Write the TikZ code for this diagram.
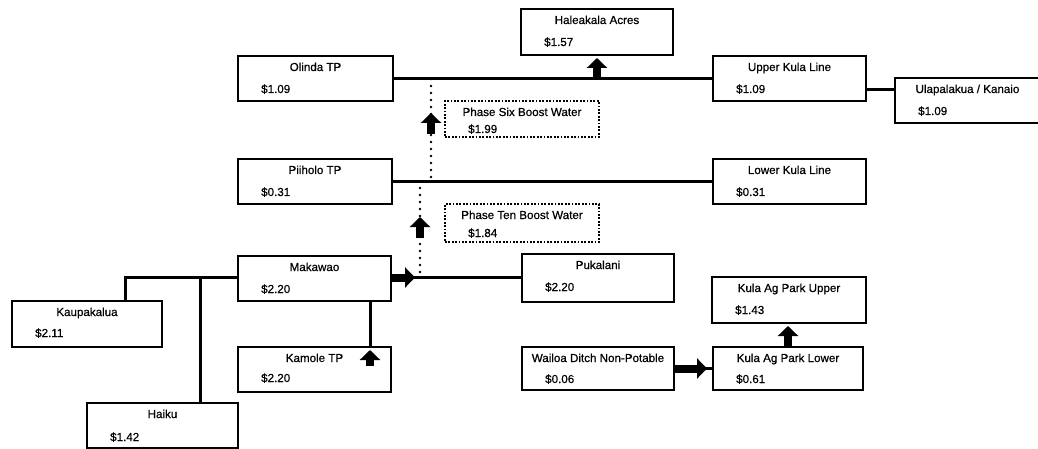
\documentclass[tikz,border=0pt]{standalone}
\usepackage{fontspec}
\setmainfont{Liberation Sans}
\newfontfamily\diagfont{Liberation Sans}[FakeBold=0.6]
\usetikzlibrary{arrows.meta,calc}
\tikzset{
 box/.style={draw, line width=2pt, rectangle, inner sep=0pt},
 dbox/.style={draw, line width=1.8pt, dash pattern=on 1.8pt off 1.6pt, rectangle, inner sep=0pt},
 ttl/.style={inner sep=0pt, anchor=base, font=\diagfont\fontsize{11.6}{13}\selectfont},
 prc/.style={inner sep=0pt, anchor=base west, font=\diagfont\fontsize{11.6}{13}\selectfont},
 conn/.style={line width=3pt},
 dotconn/.style={line width=2.6pt, line cap=round, dash pattern=on 0pt off 7pt},
 fat/.style={line width=8pt, -{Triangle[width=20pt,length=10pt]}},
}
% #1 name, #2 style, #3 x1, #4 y1, #5 x2, #6 y2, #7 title, #8 price, #9 price baseline offset
\newcommand\pbox[9]{%
 \node[#2, minimum width={(#5-#3)*1pt}, minimum height={(#6-#4)*1pt}] (#1) at ({(#3+#5)/2},{(#4+#6)/2}) {};
 \node[ttl] (#1-t) at ({(#3+#5)/2},{#4+15}) {#7};
 \node[prc] (#1-p) at ({#3+23},{#4+#9}) {#8};
}
\begin{document}
\begin{tikzpicture}[x=1pt,y=-1pt]
\useasboundingbox (0,0) rectangle (1038,449);
\pbox{haleakala}{box}{521}{9}{673}{55}{Haleakala Acres}{\$1.57}{37}
\pbox{olinda}{box}{238}{56}{393}{101}{Olinda TP}{\$1.09}{37}
\pbox{upperkula}{box}{713}{56}{866}{101}{Upper Kula Line}{\$1.09}{37}
\pbox{ulap}{box}{895}{78}{1040}{123}{Ulapalakua / Kanaio}{\$1.09}{37}
\pbox{piiholo}{box}{238}{159}{392}{204}{Piiholo TP}{\$0.31}{37}
\pbox{lowerkula}{box}{713}{159}{866}{204}{Lower Kula Line}{\$0.31}{37}
\pbox{phasesix}{dbox}{445}{101}{599}{137}{Phase Six Boost Water}{\$1.99}{32}
\pbox{phaseten}{dbox}{445}{204}{599}{242}{Phase Ten Boost Water}{\$1.84}{33}
\pbox{makawao}{box}{238}{256}{391}{301}{Makawao}{\$2.20}{37}
\pbox{pukalani}{box}{522}{254}{674}{302}{Pukalani}{\$2.20}{37}
\pbox{kaup}{box}{12}{301}{162}{347}{Kaupakalua}{\$2.11}{36}
\pbox{haiku}{box}{87}{403}{238}{448}{Haiku}{\$1.42}{38}
\pbox{kamole}{box}{238}{347}{391}{392}{Kamole TP}{\$2.20}{35}
\pbox{wailoa}{box}{522}{347}{674}{390}{Wailoa Ditch Non-Potable}{\$0.06}{36}
\pbox{kulalower}{box}{713}{347}{863}{390}{Kula Ag Park Lower}{\$0.61}{36}
\pbox{kulaupper}{box}{712}{277}{866}{323}{Kula Ag Park Upper}{\$1.43}{37}

% top line
\draw[conn] (olinda.east) -- (upperkula.west);
\draw[fat] (haleakala.south |- olinda.east) -- ([yshift=-2pt]haleakala.south);
\draw[conn] ([yshift=-11.5pt]upperkula.east) coordinate (u1) -- (u1 -| ulap.west);
% phase six dotted
\coordinate (d1t) at (431,79);
\coordinate (d1b) at (431,180);
\draw[dotconn] (d1t) -- (d1b);
\coordinate (a1b) at (431,134);
\coordinate (a1t) at (431,113);
\draw[fat] (a1b) -- (a1t);
% middle line
\draw[conn] (piiholo.east) -- (lowerkula.west);
% phase ten dotted
\coordinate (d2t) at (420,188);
\coordinate (d2b) at (420,277);
\draw[dotconn] (d2t) -- (d2b);
\coordinate (a2b) at (420,238);
\coordinate (a2t) at (420,217);
\draw[fat] (a2b) -- (a2t);
% makawao -> pukalani
\coordinate (m1) at ([xshift=23pt,yshift=1pt]makawao.east);
\draw[fat] ([yshift=1pt]makawao.east) -- (m1);
\draw[conn] ([xshift=-3pt]m1) -- (m1 -| pukalani.west);
% left tree
\draw[conn] ([yshift=1pt]makawao.west) -| ([xshift=38pt]kaup.north);
\draw[conn] ([xshift=37.5pt]haiku.north) |- ([yshift=1pt]makawao.west);
% kamole
\draw[conn] ([xshift=55.5pt]makawao.south) -- ([xshift=55.5pt]kamole.north);
\draw[fat] ([xshift=55.5pt,yshift=-20pt]kamole.north) -- ([xshift=55.5pt,yshift=-4pt]kamole.north);
% wailoa -> kula lower
\coordinate (w1) at ([xshift=32pt]wailoa.east);
\draw[fat] (wailoa.east) -- (w1);
\draw[conn] ([xshift=-3pt]w1) -- (kulalower.west);
% kula lower -> upper
\draw[fat] (kulalower.north) -- ([yshift=-2pt]kulalower.north |- kulaupper.south);
\end{tikzpicture}
\end{document}
